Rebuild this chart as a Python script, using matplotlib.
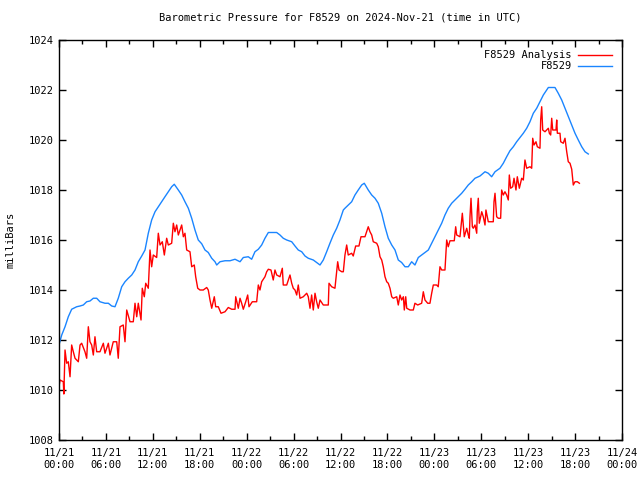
import matplotlib
matplotlib.use("Agg")
import matplotlib.pyplot as plt
from matplotlib.ticker import FixedLocator, MultipleLocator

# hours since 2024-11-21 00:00 UTC, pressure in mbar
station_hours = [0.0, 0.35, 0.77, 1.19, 1.62, 2.26, 2.69, 3.11, 3.54, 3.96, 4.39, 4.82, 5.24, 5.88,
                 6.31, 6.74, 7.16, 7.58, 8.02, 8.44, 8.86, 9.30, 9.72, 10.14, 10.58, 11.0, 11.42,
                 11.85, 12.28, 12.70, 13.13, 13.55, 13.98, 14.41, 14.74, 15.26, 15.69, 16.11, 16.54,
                 16.97, 17.39, 17.81, 18.25, 18.67, 19.09, 19.53, 19.95, 20.17, 20.59, 21.23, 21.87,
                 22.51, 23.15, 23.57, 24.21, 24.64, 25.06, 25.49, 25.92, 26.34, 26.77, 27.40, 27.84,
                 28.26, 28.68, 29.12, 29.76, 30.18, 30.60, 31.04, 31.46, 31.88, 32.52, 32.95, 33.38,
                 33.80, 34.23, 34.65, 35.08, 35.51, 35.93, 36.36, 36.57, 36.99, 37.43, 37.85, 38.27,
                 38.71, 39.04, 39.55, 39.99, 40.41, 40.83, 41.27, 41.69, 42.11, 42.55, 42.97, 43.39,
                 43.82, 44.25, 44.67, 45.10, 45.52, 45.95, 46.38, 46.80, 47.23, 47.66, 48.08, 48.50,
                 48.94, 49.36, 49.78, 50.22, 50.64, 51.06, 51.50, 51.92, 52.34, 52.78, 53.20, 53.84,
                 54.48, 54.90, 55.33, 55.76, 56.39, 56.82, 57.25, 57.67, 58.10, 58.53, 58.95, 59.38,
                 59.81, 60.23, 60.66, 61.09, 61.51, 61.94, 62.58, 63.43, 63.85, 64.29, 64.71, 65.13,
                 65.57, 65.99, 66.41, 66.85, 67.27, 67.69]
station_mbar = [1011.8, 1012.2, 1012.53, 1012.93, 1013.23, 1013.33, 1013.36, 1013.4, 1013.53, 1013.56,
                1013.67, 1013.67, 1013.53, 1013.47, 1013.47, 1013.36, 1013.33, 1013.67, 1014.13,
                1014.33, 1014.47, 1014.6, 1014.8, 1015.13, 1015.36, 1015.6, 1016.27, 1016.8, 1017.13,
                1017.33, 1017.53, 1017.73, 1017.93, 1018.13, 1018.23, 1018.0, 1017.8, 1017.53, 1017.27,
                1016.87, 1016.4, 1016.0, 1015.85, 1015.6, 1015.5, 1015.27, 1015.13, 1015.0, 1015.13,
                1015.17, 1015.17, 1015.23, 1015.13, 1015.3, 1015.33, 1015.23, 1015.53, 1015.63, 1015.8,
                1016.07, 1016.3, 1016.3, 1016.3, 1016.2, 1016.07, 1016.0, 1015.93, 1015.76, 1015.6,
                1015.53, 1015.36, 1015.27, 1015.2, 1015.1, 1015.0, 1015.2, 1015.53, 1015.87, 1016.2,
                1016.47, 1016.8, 1017.2, 1017.27, 1017.4, 1017.53, 1017.8, 1018.0, 1018.2, 1018.27,
                1018.0, 1017.8, 1017.67, 1017.47, 1017.07, 1016.53, 1016.07, 1015.8, 1015.6, 1015.2,
                1015.1, 1014.93, 1014.93, 1015.13, 1015.0, 1015.3, 1015.4, 1015.5, 1015.6, 1015.87,
                1016.13, 1016.4, 1016.67, 1017.0, 1017.27, 1017.47, 1017.6, 1017.73, 1017.87, 1018.03,
                1018.2, 1018.33, 1018.47, 1018.56, 1018.73, 1018.67, 1018.53, 1018.73, 1018.87, 1019.07,
                1019.33, 1019.57, 1019.73, 1019.93, 1020.1, 1020.27, 1020.47, 1020.73, 1021.07, 1021.27,
                1021.53, 1021.8, 1022.1, 1022.1, 1021.87, 1021.6, 1021.27, 1020.93, 1020.6, 1020.27,
                1020.0, 1019.73, 1019.53, 1019.44]

analysis_hours = [0.0, 0.13, 0.55, 0.62, 0.77, 0.98, 1.19, 1.41, 1.62, 1.83, 2.05, 2.47, 2.69, 2.90,
                  3.32, 3.54, 3.75, 3.96, 4.18, 4.39, 4.60, 4.82, 5.24, 5.67, 5.88, 6.31, 6.52, 6.94,
                  7.38, 7.58, 7.80, 8.22, 8.44, 8.66, 9.08, 9.50, 9.72, 9.94, 10.14, 10.49, 10.65,
                  10.91, 11.09, 11.42, 11.64, 11.85, 12.06, 12.49, 12.70, 12.92, 13.21, 13.47, 13.77,
                  13.98, 14.41, 14.62, 14.83, 15.05, 15.26, 15.47, 15.69, 15.90, 16.11, 16.33, 16.75,
                  16.97, 17.30, 17.48, 17.74, 18.03, 18.45, 18.89, 19.09, 19.31, 19.53, 19.86, 20.04,
                  20.37, 20.72, 21.23, 21.65, 22.09, 22.51, 22.60, 22.93, 23.15, 23.36, 23.57, 23.88,
                  24.13, 24.30, 24.72, 25.28, 25.49, 25.70, 25.92, 26.34, 26.56, 26.77, 27.11, 27.40,
                  27.62, 27.84, 28.26, 28.56, 28.68, 29.12, 29.54, 29.76, 29.96, 30.18, 30.40, 30.60,
                  30.82, 31.24, 31.68, 31.88, 32.10, 32.31, 32.52, 32.74, 32.95, 33.16, 33.38, 33.80,
                  34.44, 34.53, 34.87, 35.29, 35.64, 35.81, 36.16, 36.36, 36.57, 36.79, 36.99, 37.43,
                  37.63, 37.94, 38.36, 38.62, 39.13, 39.55, 39.77, 39.99, 40.19, 40.63, 40.83, 41.05,
                  41.27, 41.47, 41.69, 41.91, 42.11, 42.33, 42.55, 42.75, 43.19, 43.39, 43.61, 43.82,
                  44.04, 44.16, 44.34, 44.47, 44.89, 45.31, 45.52, 45.87, 46.38, 46.59, 46.80, 47.15,
                  47.44, 47.66, 47.87, 48.30, 48.50, 48.72, 48.94, 49.36, 49.58, 49.78, 50.00, 50.55,
                  50.73, 50.86, 51.28, 51.58, 51.83, 52.14, 52.34, 52.47, 52.56, 52.69, 52.86, 52.98,
                  53.20, 53.42, 53.49, 53.62, 53.75, 54.06, 54.26, 54.48, 54.60, 54.90, 55.54, 55.63,
                  55.76, 55.97, 56.18, 56.48, 56.61, 56.82, 57.03, 57.25, 57.46, 57.59, 57.76, 58.02,
                  58.19, 58.44, 58.61, 58.87, 59.17, 59.38, 59.59, 59.81, 60.23, 60.45, 60.58, 60.75,
                  61.0, 61.17, 61.51, 61.60, 61.73, 61.86, 62.15, 62.37, 62.58, 62.71, 62.88, 63.01,
                  63.14, 63.56, 63.65, 63.73, 64.07, 64.16, 64.49, 64.71, 64.93, 65.13, 65.35, 65.57,
                  65.77, 65.99, 66.29, 66.55]
analysis_mbar = [1010.13, 1010.4, 1010.33, 1009.84, 1011.6, 1011.07, 1011.13, 1010.53, 1011.8, 1011.53,
                 1011.27, 1011.13, 1011.8, 1011.87, 1011.53, 1011.27, 1012.53, 1011.93, 1011.8, 1011.4,
                 1012.13, 1011.53, 1011.53, 1011.87, 1011.47, 1011.87, 1011.4, 1011.93, 1011.93, 1011.27,
                 1012.53, 1012.6, 1011.93, 1013.2, 1012.73, 1012.73, 1013.47, 1012.93, 1013.47, 1012.8,
                 1014.07, 1013.73, 1014.27, 1014.07, 1015.6, 1014.93, 1015.4, 1015.3, 1016.27, 1015.8,
                 1015.93, 1015.4, 1016.07, 1015.8, 1015.87, 1016.67, 1016.33, 1016.6, 1016.2, 1016.4,
                 1016.6, 1016.13, 1016.27, 1015.6, 1015.53, 1014.93, 1015.0, 1014.53, 1014.07, 1014.0,
                 1014.0, 1014.1, 1014.0, 1013.6, 1013.27, 1013.73, 1013.33, 1013.33, 1013.07, 1013.13,
                 1013.3, 1013.23, 1013.23, 1013.73, 1013.27, 1013.67, 1013.47, 1013.23, 1013.53, 1013.8,
                 1013.33, 1013.53, 1013.53, 1014.2, 1014.0, 1014.33, 1014.53, 1014.73, 1014.83, 1014.8,
                 1014.4, 1014.8, 1014.6, 1014.53, 1014.87, 1014.2, 1014.2, 1014.6, 1014.27, 1014.07,
                 1014.0, 1013.8, 1014.2, 1013.67, 1013.73, 1013.87, 1013.73, 1013.27, 1013.8, 1013.2,
                 1013.87, 1013.53, 1013.27, 1013.6, 1013.4, 1013.4, 1014.27, 1014.13, 1014.07, 1015.13,
                 1014.8, 1014.73, 1014.73, 1015.4, 1015.8, 1015.4, 1015.47, 1015.36, 1015.76, 1015.76,
                 1016.13, 1016.13, 1016.53, 1016.33, 1016.2, 1015.93, 1015.87, 1015.73, 1015.33, 1015.2,
                 1014.93, 1014.53, 1014.33, 1014.27, 1014.07, 1013.73, 1013.67, 1013.73, 1013.4, 1013.8,
                 1013.6, 1013.73, 1013.2, 1013.73, 1013.27, 1013.2, 1013.2, 1013.47, 1013.4, 1013.47,
                 1013.93, 1013.6, 1013.47, 1013.47, 1013.87, 1014.2, 1014.2, 1014.13, 1014.93, 1014.8,
                 1014.8, 1016.0, 1015.73, 1015.97, 1015.97, 1016.53, 1016.2, 1016.13, 1017.07, 1016.13,
                 1016.47, 1016.2, 1016.07, 1016.93, 1017.67, 1016.53, 1016.47, 1016.6, 1016.27, 1017.13,
                 1017.67, 1016.67, 1017.13, 1016.93, 1016.6, 1017.2, 1016.73, 1016.73, 1017.53, 1017.87,
                 1016.93, 1016.87, 1016.87, 1018.0, 1017.8, 1017.93, 1017.8, 1017.6, 1018.6, 1018.07,
                 1018.13, 1018.47, 1018.0, 1018.53, 1018.07, 1018.47, 1018.4, 1019.2, 1018.87, 1018.93,
                 1018.87, 1020.07, 1019.8, 1019.93, 1019.73, 1019.67, 1020.8, 1021.33, 1020.4, 1020.33,
                 1020.4, 1020.47, 1020.27, 1020.2, 1020.87, 1020.4, 1020.4, 1020.8, 1020.27, 1020.27,
                 1019.93, 1019.87, 1020.07, 1019.53, 1019.13, 1019.07, 1018.83, 1018.2, 1018.33, 1018.33,
                 1018.27]

tick_hours = [0, 6, 12, 18, 24, 30, 36, 42, 48, 54, 60, 66, 72]
tick_labels = ["11/21\n00:00", "11/21\n06:00", "11/21\n12:00", "11/21\n18:00",
               "11/22\n00:00", "11/22\n06:00", "11/22\n12:00", "11/22\n18:00",
               "11/23\n00:00", "11/23\n06:00", "11/23\n12:00", "11/23\n18:00",
               "11/24\n00:00"]

plt.rcParams['font.family'] = ['DejaVu Sans Mono']
plt.rcParams['font.size'] = 7.5

fig = plt.figure(figsize=(6.4, 4.8), dpi=100)
ax = fig.add_axes([59 / 640, 1 - 440 / 480, 563 / 640, 400 / 480])

ax.plot(analysis_hours, analysis_mbar, color='#ff0000', lw=1.0, label='F8529 Analysis')
ax.plot(station_hours, station_mbar, color='#1a85ff', lw=1.0, label='F8529')

ax.set_xlim(0, 72)
ax.set_ylim(1008, 1024)
ax.xaxis.set_major_locator(FixedLocator(tick_hours))
ax.set_xticklabels(tick_labels)
ax.xaxis.set_minor_locator(MultipleLocator(3))
ax.yaxis.set_major_locator(MultipleLocator(2))

ax.tick_params(which='both', direction='in', top=True, right=True, color='black')
ax.tick_params(which='major', length=5, width=1)
ax.tick_params(which='minor', length=3, width=1)
ax.tick_params(axis='x', pad=6)
for s in ax.spines.values():
    s.set_linewidth(1)

ax.set_title('Barometric Pressure for F8529 on 2024-Nov-21 (time in UTC)', fontsize=7.5, pad=14)
ax.set_ylabel('milliBars', labelpad=10)

leg = ax.legend(loc='upper right', frameon=False, markerfirst=False, handlelength=3.2,
                handletextpad=0.6, labelspacing=0.1, borderaxespad=0.6, fontsize=7.5)
for t in leg.get_texts():
    t.set_ha('right')

fig.savefig('out.png', dpi=100)
